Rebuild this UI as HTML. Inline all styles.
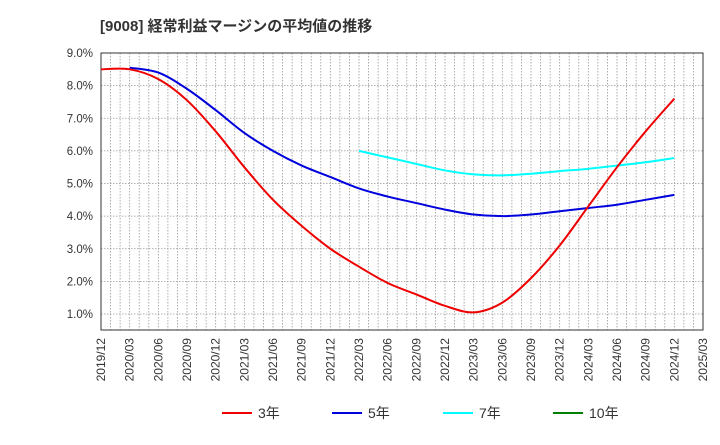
<!DOCTYPE html>
<html><head><meta charset="utf-8"><style>
body{margin:0;background:#fff;font-family:"Liberation Sans","Noto Sans CJK JP",sans-serif;}
svg text{font-family:"Liberation Sans","Noto Sans CJK JP",sans-serif;fill:#333;}
</style></head><body>
<svg id="chart" width="720" height="440" xmlns="http://www.w3.org/2000/svg">
<text x="100" y="31" font-size="15" font-weight="bold">[9008]  経常利益マージンの平均値の推移</text>
<g id="grid"></g><g id="axes"></g><g id="series"></g><g id="legend"></g>
</svg>
<script>
const xLabels=["2019/12","2020/03","2020/06","2020/09","2020/12","2021/03","2021/06","2021/09","2021/12","2022/03","2022/06","2022/09","2022/12","2023/03","2023/06","2023/09","2023/12","2024/03","2024/06","2024/09","2024/12","2025/03"];
const yTicks=[1,2,3,4,5,6,7,8,9];
const s3=[8.5,8.5,8.2,7.55,6.6,5.5,4.5,3.7,3.0,2.45,1.95,1.6,1.25,1.05,1.35,2.1,3.1,4.3,5.5,6.6,7.6];
const s5=[null,8.55,8.4,7.9,7.25,6.55,6.0,5.55,5.2,4.85,4.6,4.4,4.2,4.05,4.0,4.05,4.15,4.25,4.35,4.5,4.65];
const s7=[null,null,null,null,null,null,null,null,null,6.0,5.8,5.6,5.4,5.28,5.25,5.3,5.38,5.45,5.55,5.65,5.78];
const L=101,R=703,T=53,B=330;
const NS="http://www.w3.org/2000/svg";
const xs=i=>L+(R-L)*i/63*3;
const xm=m=>L+(R-L)*m/63;
const ys=v=>T+(9-v)*(314-53)/8;
function mk(tag,attrs,parent){const e=document.createElementNS(NS,tag);for(const k in attrs)e.setAttribute(k,attrs[k]);parent.appendChild(e);return e;}
const grid=document.getElementById('grid'),axes=document.getElementById('axes'),ser=document.getElementById('series'),leg=document.getElementById('legend');
for(let m=1;m<63;m++){const l=mk('line',{x1:xm(m),x2:xm(m),y1:T,y2:B,stroke:'#999','stroke-width':0.8,'stroke-dasharray':'1.5,1.5'},grid);

}
yTicks.forEach(v=>{const l=mk('line',{x1:L,x2:R,y1:ys(v),y2:ys(v),stroke:'#999','stroke-width':0.8,'stroke-dasharray':'1.5,1.5'},grid);


const t=mk('text',{x:L-8,y:ys(v)+4,'text-anchor':'end','font-size':11.5},axes);t.textContent=v.toFixed(1)+'%';

});
const fr=mk('rect',{x:L,y:T,width:R-L,height:B-T,fill:'none',stroke:'#333','stroke-width':1},axes);


xLabels.forEach((s,i)=>{const x=xs(i)+4;const y=B+8;const t=mk('text',{x:x,y:y,'text-anchor':'end','font-size':12,transform:`rotate(-90 ${x} ${y})`},axes);t.textContent=s;

});
function path(data,color,name){const p=[];data.forEach((v,i)=>{if(v!=null)p.push([xs(i),ys(v)]);});
let d=`M${p[0][0]},${p[0][1]}`;for(let i=0;i<p.length-1;i++){const p0=p[Math.max(0,i-1)],p1=p[i],p2=p[i+1],p3=p[Math.min(p.length-1,i+2)];
d+=` C${p1[0]+(p2[0]-p0[0])/6},${p1[1]+(p2[1]-p0[1])/6} ${p2[0]-(p3[0]-p1[0])/6},${p2[1]-(p3[1]-p1[1])/6} ${p2[0]},${p2[1]}`;}
const e=mk('path',{d:d,fill:'none',stroke:color,'stroke-width':2},ser);

}
path(s7,'#00ffff','line-7yr');path(s5,'#0000dd','line-5yr');path(s3,'#ee0000','line-3yr');
[["3年","#ee0000",222],["5年","#0000dd",332],["7年","#00ffff",443],["10年","#008000",553]].forEach(([n,c,x])=>{
const g=mk('g',{},leg);


mk('line',{x1:x,x2:x+30,y1:413,y2:413,stroke:c,'stroke-width':2},g);
const t=mk('text',{x:x+36,y:418,'font-size':14},g);t.textContent=n;});
</script>
</body></html>
